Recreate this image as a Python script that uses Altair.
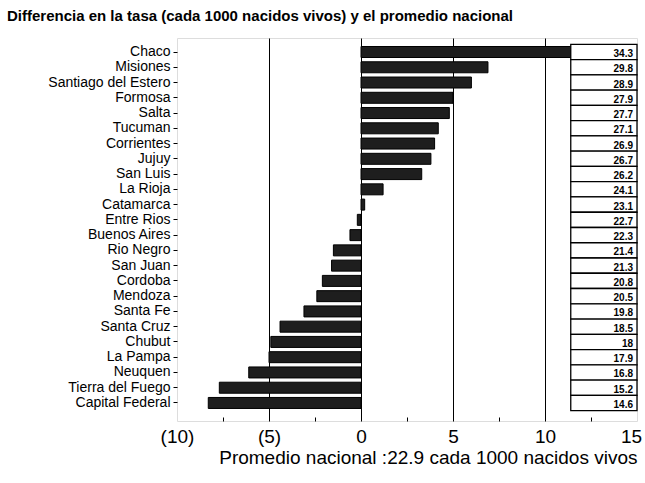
import altair as alt
import pandas as pd

provinces = ["Chaco", "Misiones", "Santiago del Estero", "Formosa", "Salta", "Tucuman",
             "Corrientes", "Jujuy", "San Luis", "La Rioja", "Catamarca", "Entre Rios",
             "Buenos Aires", "Rio Negro", "San Juan", "Cordoba", "Mendoza", "Santa Fe",
             "Santa Cruz", "Chubut", "La Pampa", "Neuquen", "Tierra del Fuego", "Capital Federal"]
rates = [34.3, 29.8, 28.9, 27.9, 27.7, 27.1, 26.9, 26.7, 26.2, 24.1, 23.1, 22.7,
         22.3, 21.4, 21.3, 20.8, 20.5, 19.8, 18.5, 18, 17.9, 16.8, 15.2, 14.6]
national = 22.9
title_text = "Differencia en la tasa (cada 1000 nacidos vivos) y el promedio nacional"
x_title = "Promedio nacional :22.9 cada 1000 nacidos vivos"
x_ticks = [-10, -7.5, -5, -2.5, 0, 2.5, 5, 7.5, 10, 12.5, 15]
x_domain = [-10, 15]

df = pd.DataFrame({"provincia": provinces, "tasa": rates})
df["dif"] = (df["tasa"] - national).round(1)
df["cero"] = 0.0
df["tasa_lbl"] = df["tasa"].map(lambda v: f"{v:g}")
df["box0"] = df["dif"].max()
df["box1"] = x_domain[1]

FONT = "Liberation Sans Narrow, Arial Narrow, Liberation Sans, Arial, sans-serif"

y_enc = alt.Y(
    "provincia:N", sort=provinces, title=None,
    scale=alt.Scale(paddingInner=0, paddingOuter=0.55, align=0.38),
    axis=alt.Axis(labelFont=FONT, labelFontSize=14, labelColor="black",
                  tickColor="black", tickSize=4, tickWidth=1, domain=False,
                  labelPadding=3, labelLimit=175, grid=False),
)

x_scale = alt.Scale(domain=x_domain, nice=False, zero=False)
x_axis = alt.Axis(
    values=x_ticks,
    labelExpr="datum.value % 5 != 0 ? '' : (datum.value < 0 ? '(' + abs(datum.value) + ')' : '' + datum.value)",
    labelFont=FONT, labelFontSize=19, labelColor="black", labelPadding=10,
    labelFlush=False, labelBound=False,
    labelOffset={"condition": {"test": "datum.value == 15", "value": -6}, "value": 0},
    grid=True, gridColor="black", gridWidth=1,
    gridOpacity={"condition": {"test": "datum.value % 5 != 0 || datum.value == -10 || datum.value == 15", "value": 0}, "value": 1},
    ticks=True, tickColor="black", tickSize={"expr": "-4"},
    tickOpacity={"condition": {"test": "datum.value % 5 == 0", "value": 0}, "value": 1},
    domain=False,
    title=x_title, titleFont=FONT, titleFontSize=19, titleFontWeight="normal",
    titleColor="black", titleAnchor="end", titlePadding=2,
)

base = alt.Chart(df)

bars = base.mark_bar(size=11, color="#1e1e1e", stroke="black", strokeWidth=1).encode(
    x=alt.X("dif:Q", scale=x_scale, axis=x_axis),
    x2="cero:Q",
    y=y_enc,
)

boxes = base.mark_rect(fill="white", stroke="black", strokeWidth=1.3).encode(
    x=alt.X("box0:Q", scale=x_scale),
    x2="box1:Q",
    y=y_enc,
)

texts = base.mark_text(align="right", baseline="middle", dx=-4, dy=2, font=FONT,
                       fontSize=10, fontWeight="bold", color="black").encode(
    x=alt.X("box1:Q", scale=x_scale),
    y=y_enc,
    text="tasa_lbl:N",
)

chart = alt.layer(bars, boxes, texts).properties(
    width=460, height=383,
    autosize=alt.AutoSizeParams(type="none"),
    padding={"left": 177, "top": 38, "right": 8, "bottom": 62},
    title=alt.TitleParams(title_text, font=FONT, fontSize=15, fontWeight="bold",
                          color="black", anchor="start", frame="group", dx=-170, offset=14),
).configure_view(stroke="black", strokeWidth=1.5).configure(background="white")

chart.save("out.html", embed_options={"renderer": "svg", "actions": False})
